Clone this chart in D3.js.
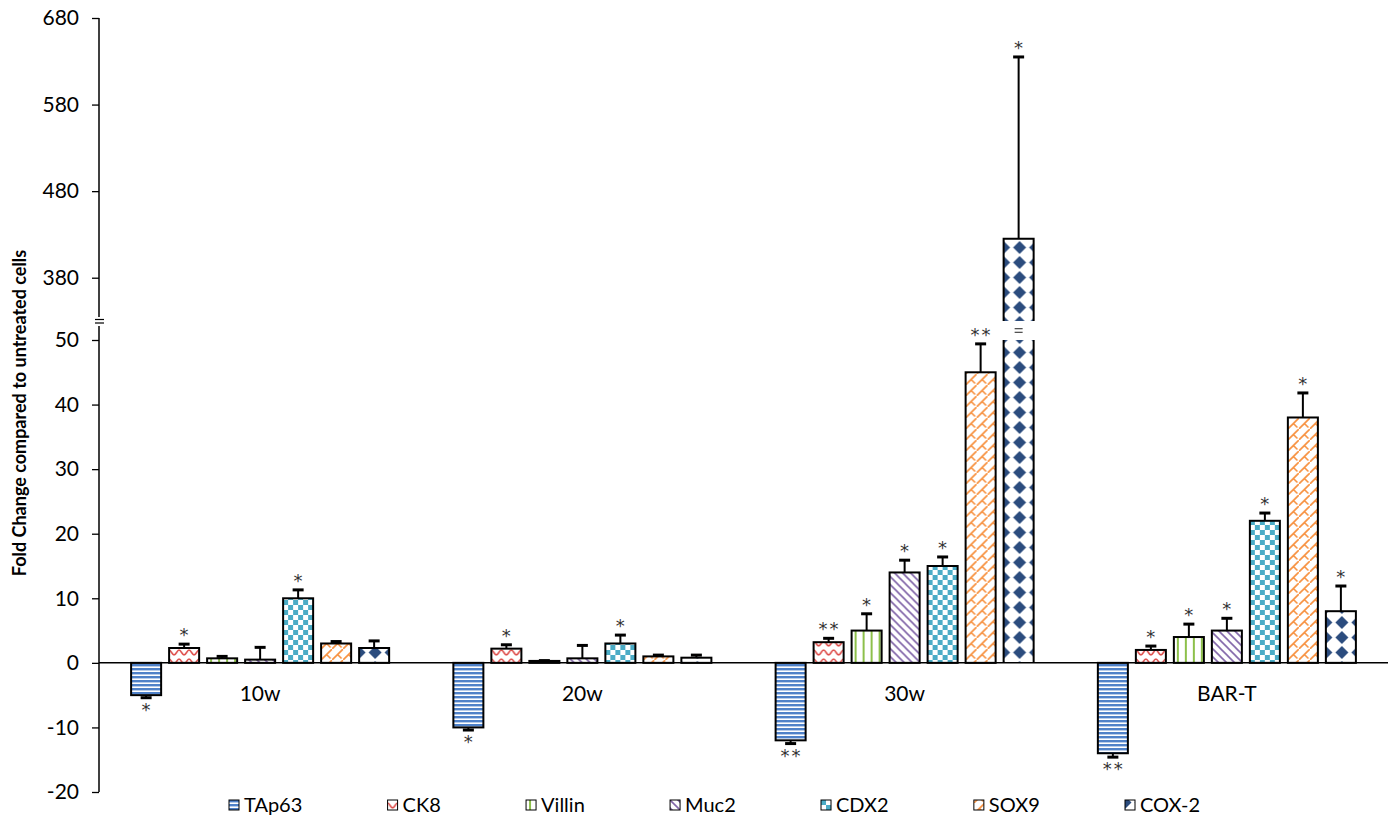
<!DOCTYPE html>
<html>
<head>
<meta charset="utf-8">
<script src="https://cdn.jsdelivr.net/npm/d3@7"></script>
<style>
body { margin: 0; background: #fff; }
svg text { font-family: Lato, "Liberation Sans", sans-serif; fill: #000; }
svg text.sig { font-family: "DejaVu Sans", sans-serif; fill: #333; }
</style>
</head>
<body>
<svg id="chart" width="1396" height="815"></svg>
<script>
// categories and series
const categories = ["10w", "20w", "30w", "BAR-T"];
const genes = ["TAp63", "CK8", "Villin", "Muc2", "CDX2", "SOX9", "COX-2"];

const tap63 = [-5, -10, -12, -14];
const ck8 = [2.3, 2.2, 3.2, 2.0];
const villin = [0.7, 0.3, 5.0, 4.0];
const muc2 = [0.5, 0.7, 14, 5.0];
const cdx2 = [10, 3, 15, 22];
const sox9 = [3, 1, 45, 38];
const cox2 = [2.3, 0.8, 425, 8];

const tap63Err = [0.4, 0.4, 0.5, 0.6];
const ck8Err = [0.6, 0.6, 0.6, 0.6];
const villinErr = [0.3, 0.05, 2.6, 2.0];
const muc2Err = [1.9, 2.0, 1.9, 1.9];
const cdx2Err = [1.3, 1.3, 1.4, 1.2];
const sox9Err = [0.3, 0.2, 4.4, 3.8];
const cox2Err = [1.1, 0.4, 210, 3.9];

const tap63Sig = ["*", "*", "**", "**"];
const ck8Sig = ["*", "*", "**", "*"];
const villinSig = ["", "", "*", "*"];
const muc2Sig = ["", "", "*", "*"];
const cdx2Sig = ["*", "*", "*", "*"];
const sox9Sig = ["", "", "**", "*"];
const cox2Sig = ["", "", "*", "*"];

const lowTicks = [-20, -10, 0, 10, 20, 30, 40, 50];
const highTicks = [380, 480, 580, 680];
const yTitle = "Fold Change compared to untreated cells";

const valores = [tap63, ck8, villin, muc2, cdx2, sox9, cox2];
const errores = [tap63Err, ck8Err, villinErr, muc2Err, cdx2Err, sox9Err, cox2Err];
const marcas = [tap63Sig, ck8Sig, villinSig, muc2Sig, cdx2Sig, sox9Sig, cox2Sig];

const svg = d3.select("#chart");

// scales, the axis is broken between 50 and 330
const x0 = d3.scaleBand().domain(categories).range([99, 1388]);
const x1 = d3.scaleBand().domain(genes).range([0, x0.bandwidth()])
    .paddingInner(0.21).paddingOuter(0.845);
const yLow = d3.scaleLinear().domain([-20, 50]).range([792, 340]);
const yHigh = d3.scaleLinear().domain([330, 680]).range([321, 18]);
const corte = 50;
const yAt = v => v > corte ? yHigh(v) : yLow(v);

// patterns
const defs = svg.append("defs");
function patron(id, w, h) {
    const p = defs.append("pattern").attr("id", id)
        .attr("patternUnits", "userSpaceOnUse")
        .attr("width", w).attr("height", h);
    p.append("rect").attr("width", w).attr("height", h).attr("fill", "#fff");
    return p;
}
let p = patron("p0", 4, 4);
p.append("rect").attr("width", 4).attr("height", 2.4).attr("fill", "#4F81C8");
p = patron("p1", 10, 9);
p.append("path").attr("d", "M0,2 C2,2 3,7 5,7 C7,7 8,2 10,2")
    .attr("fill", "none").attr("stroke", "#DD4A47").attr("stroke-width", 1.5);
p = patron("p2", 8, 10);
p.append("rect").attr("x", 3).attr("width", 2).attr("height", 10).attr("fill", "#8DC04B");
p = patron("p3", 8, 8);
p.append("path").attr("d", "M0,0L8,8M-4,4L4,12M4,-4L12,4")
    .attr("stroke", "#8064A8").attr("stroke-width", 1.6);
p = patron("p4", 10, 10);
p.append("rect").attr("width", 5).attr("height", 5).attr("fill", "#4BACC6");
p.append("rect").attr("x", 5).attr("y", 5).attr("width", 5).attr("height", 5).attr("fill", "#4BACC6");
p = patron("p5", 11, 11);
p.append("path").attr("d", "M0,11L11,0M5.5,5.5L9.5,9.5M-5.5,5.5L-1.5,9.5")
    .attr("fill", "none").attr("stroke", "#F78F3C").attr("stroke-width", 1.6);
p = patron("p6", 16, 15).attr("x", -8);
p.append("path").attr("d", "M8,1L14.5,7.5L8,14L1.5,7.5Z").attr("fill", "#2B4C7E");

// y axes
const fmt = d => String(d);
const ejeLow = svg.append("g").attr("transform", "translate(99,0)")
    .call(d3.axisLeft(yLow).tickValues(lowTicks).tickFormat(fmt).tickSize(7).tickPadding(13));
const ejeHigh = svg.append("g").attr("transform", "translate(99,0)")
    .call(d3.axisLeft(yHigh).tickValues(highTicks).tickFormat(fmt).tickSize(7).tickPadding(13));
[ejeLow, ejeHigh].forEach(g => {
    g.select(".domain").remove();
    g.selectAll(".tick line").attr("stroke", "#000").attr("stroke-width", 1.3);
    g.selectAll(".tick text").style("font-size", "21px").attr("fill", "#000");
});
svg.append("line").attr("x1", 99).attr("x2", 99)
    .attr("y1", yLow(-20)).attr("y2", yLow(50) - 14)
    .attr("stroke", "#000").attr("stroke-width", 1.5);
svg.append("line").attr("x1", 99).attr("x2", 99)
    .attr("y1", yHigh(680)).attr("y2", yHigh(330) - 4)
    .attr("stroke", "#000").attr("stroke-width", 1.5);
[319.5, 323].forEach(yy => {
    svg.append("line").attr("x1", 95).attr("x2", 104).attr("y1", yy).attr("y2", yy)
        .attr("stroke", "#000").attr("stroke-width", 1.2);
});

svg.append("text")
    .attr("transform", "translate(26,413) rotate(-90)")
    .attr("text-anchor", "middle")
    .style("font-size", "18px").style("font-weight", "bold")
    .text(yTitle);

// bars
const filas = [];
categories.forEach((c, ci) => {
    genes.forEach((g, gi) => {
        filas.push({ cat: c, gene: g, gi: gi, v: valores[gi][ci], e: errores[gi][ci], s: marcas[gi][ci] });
    });
});

const w = x1.bandwidth();
const barras = svg.append("g").selectAll("g").data(filas).join("g")
    .attr("transform", d => `translate(${x0(d.cat) + x1(d.gene)},0)`);

barras.each(function (d) {
    const g = d3.select(this);
    const fill = `url(#p${d.gi})`;
    if (d.v <= corte) {
        g.append("rect")
            .attr("y", Math.min(yLow(d.v), yLow(0)))
            .attr("width", w)
            .attr("height", Math.abs(yLow(d.v) - yLow(0)))
            .attr("fill", fill).attr("stroke", "#000").attr("stroke-width", 2);
    } else {
        g.append("rect").attr("y", yLow(corte)).attr("width", w)
            .attr("height", yLow(0) - yLow(corte)).attr("fill", fill);
        g.append("rect").attr("y", yHigh(d.v)).attr("width", w)
            .attr("height", yHigh(330) - yHigh(d.v)).attr("fill", fill);
        g.append("path")
            .attr("d", `M0,${yLow(0)}V${yLow(corte)}M${w},${yLow(0)}V${yLow(corte)}` +
                `M0,${yHigh(330)}V${yHigh(d.v)}H${w}V${yHigh(330)}`)
            .attr("fill", "none").attr("stroke", "#000").attr("stroke-width", 2);
        const ym = (yHigh(330) + yLow(corte)) / 2;
        [ym - 1.8, ym + 1.8].forEach(yy => {
            g.append("line").attr("x1", w / 2 - 4).attr("x2", w / 2 + 4)
                .attr("y1", yy).attr("y2", yy).attr("stroke", "#333").attr("stroke-width", 1.1);
        });
    }
    // error bar, one side only
    const signo = d.v < 0 ? -1 : 1;
    const fin = d.v + signo * d.e;
    g.append("line").attr("x1", w / 2).attr("x2", w / 2)
        .attr("y1", yAt(d.v)).attr("y2", yAt(fin))
        .attr("stroke", "#000").attr("stroke-width", 2);
    g.append("line").attr("x1", w / 2 - 5.5).attr("x2", w / 2 + 5.5)
        .attr("y1", yAt(fin)).attr("y2", yAt(fin))
        .attr("stroke", "#000").attr("stroke-width", 3);
    if (d.s) {
        g.append("text").attr("class", "sig")
            .attr("x", w / 2 + (d.s.length > 1 ? 1 : 0))
            .attr("y", signo > 0 ? yAt(fin) - 3 : yAt(fin) + 18)
            .attr("text-anchor", "middle")
            .style("font-size", "18px").style("letter-spacing", d.s.length > 1 ? "2px" : "0px")
            .text(d.s);
    }
});

// zero line and category labels
svg.append("line").attr("x1", 99).attr("x2", 1388)
    .attr("y1", yLow(0)).attr("y2", yLow(0))
    .attr("stroke", "#000").attr("stroke-width", 1.5);
svg.append("g").selectAll("text").data(categories).join("text")
    .attr("x", d => x0(d) + x0.bandwidth() / 2)
    .attr("y", 701)
    .attr("text-anchor", "middle")
    .style("font-size", "21px")
    .text(d => d);

// legend
const leyenda = svg.append("g");
const items = leyenda.selectAll("g").data(genes).join("g");
items.append("rect").attr("y", 800).attr("width", 10).attr("height", 10)
    .attr("fill", (d, i) => `url(#p${i})`).attr("stroke", "#000").attr("stroke-width", 1);
items.append("text").attr("x", 15).attr("y", 811.5)
    .style("font-size", "20px").text(d => d);
const anchos = [];
items.select("text").each(function () { anchos.push(this.getComputedTextLength()); });
const inicio = 229, ultimo = 1125;
let suma = 0;
for (let i = 0; i < genes.length - 1; i++) suma += 15 + anchos[i];
const hueco = (ultimo - inicio - suma) / (genes.length - 1);
let xx = inicio;
items.each(function (d, i) {
    d3.select(this).attr("transform", `translate(${xx},0)`);
    xx += 15 + anchos[i] + hueco;
});
</script>
</body>
</html>
